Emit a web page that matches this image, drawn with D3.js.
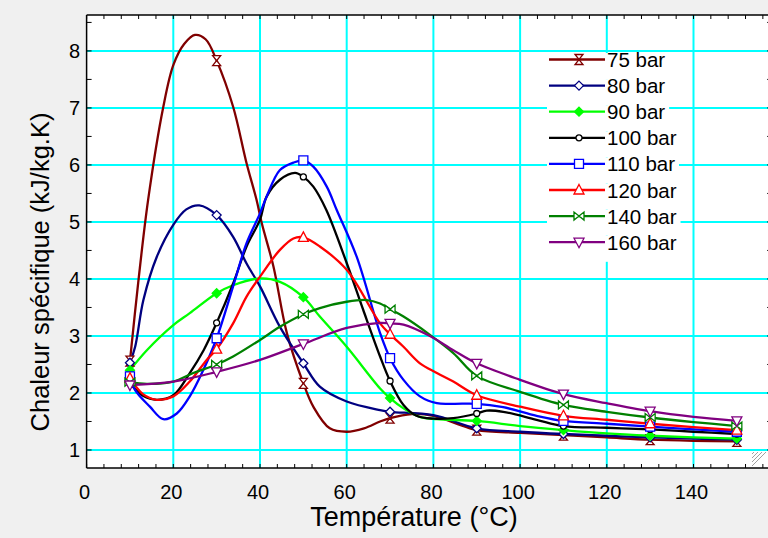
<!DOCTYPE html>
<html><head><meta charset="utf-8">
<script src="https://cdn.jsdelivr.net/npm/d3@7"></script>
<style>
html,body{margin:0;padding:0;background:#f0f0f0;}
svg{display:block;font-family:"Liberation Sans",Arial,sans-serif;}
</style></head>
<body><svg id="c" width="768" height="538"></svg>
<script>
// ---- data ----
const seriesNames = ["75 bar","80 bar","90 bar","100 bar","110 bar","120 bar","140 bar","160 bar"];
const markerTemps = [10,30,50,70,90,110,130,150];
const xTickLabels = [0,20,40,60,80,100,120,140];
const yTickLabels = [1,2,3,4,5,6,7,8];

const temps75 = [10,11.9,14.2,17.7,20,22.5,25,27.5,30,33.8,36.9,39.2,40.4,43.1,46.2,50,52.3,56.1,60,64,67.7,70,75,80,85,90,100,110,120,130,140,150];
const cp75    = [2.56,3.93,5.39,7.02,7.75,8.12,8.28,8.2,7.83,7.02,6.03,5.39,4.98,4.22,3.05,2.17,1.76,1.38,1.32,1.38,1.50,1.56,1.63,1.60,1.47,1.35,1.30,1.26,1.22,1.18,1.16,1.15];

const temps80 = [10,11.2,13.1,16.2,20,23,26,30,33.8,36.9,40,44.6,50,53.8,60,67.7,70,80,90,100,110,120,130,140,150];
const cp80    = [2.53,2.81,3.63,4.39,4.95,5.22,5.29,5.12,4.74,4.27,3.87,3.16,2.52,2.11,1.85,1.70,1.67,1.61,1.38,1.32,1.28,1.25,1.22,1.20,1.18];

const temps90 = [10,13.9,20,23.8,30,33.8,40,44.6,50,53.8,60,67.7,70,73.1,76.9,80.8,90,100,110,120,130,140,150];
const cp90    = [2.40,2.75,3.19,3.40,3.75,3.89,4.01,3.95,3.68,3.34,2.81,2.08,1.91,1.73,1.58,1.54,1.51,1.42,1.35,1.29,1.25,1.22,1.20];

const temps100 = [10,13,16.2,20,23.8,27,30,33.8,36.9,40,41.5,44.6,48.1,50,52.3,55.3,60,63.8,67.7,70,73.1,76.1,80,84.6,90,92.3,96.1,103.8,110,120,130,140,150];
const cp100    = [2.17,1.95,1.88,1.96,2.35,2.75,3.23,3.92,4.57,5.04,5.44,5.74,5.86,5.79,5.62,5.21,4.28,3.46,2.64,2.21,1.79,1.60,1.55,1.56,1.64,1.69,1.67,1.53,1.42,1.39,1.36,1.32,1.28];

const temps110 = [10,11.2,14.6,17.7,20.8,23.8,26.9,30,33.8,36.9,40,41.5,44.6,47.7,50,52.3,55.4,57.7,62.3,67.7,70,73.1,76.9,80.8,84.6,90,96.1,103.8,110,120,130,140,150];
const cp110    = [2.29,2.05,1.76,1.54,1.64,1.94,2.40,2.96,3.87,4.63,5.15,5.44,5.91,6.04,6.08,5.97,5.62,5.21,4.39,3.05,2.61,2.23,1.94,1.82,1.81,1.81,1.75,1.60,1.51,1.46,1.41,1.36,1.32];

const temps120 = [10,13,16.2,20,23.8,27.7,30,33.8,36.9,40,44.6,47.7,50,53.8,60,67.7,70,73.1,76.9,80.8,84.6,90,100,110,120,130,140,150];
const cp120    = [2.26,1.98,1.88,1.94,2.20,2.58,2.77,3.22,3.69,4.04,4.51,4.71,4.73,4.57,4.16,3.22,3.03,2.81,2.52,2.35,2.20,1.96,1.76,1.60,1.53,1.46,1.40,1.35];

const temps140 = [10,13.9,20,24.6,30,33.8,40,44.6,50,53.8,60,64.6,67.7,70,73.1,79.2,84.6,90,100,110,120,130,140,150];
const cp140    = [2.19,2.16,2.20,2.35,2.50,2.64,2.93,3.16,3.38,3.49,3.60,3.63,3.57,3.47,3.34,3.02,2.70,2.30,2.02,1.79,1.67,1.57,1.49,1.42];

const temps160 = [10,20,30,40,50,60,67.7,70,73.1,79.2,84.6,90,100,110,120,130,140,150];
const cp160    = [2.14,2.20,2.37,2.58,2.86,3.14,3.23,3.22,3.20,3.00,2.75,2.52,2.23,1.98,1.82,1.68,1.58,1.51];

const seriesTemps = [temps75,temps80,temps90,temps100,temps110,temps120,temps140,temps160];
const seriesValues = [cp75,cp80,cp90,cp100,cp110,cp120,cp140,cp160];

// ---- styles ----
const colors = ["#800000","#000080","#00ff00","#000000","#0000ff","#ff0000","#008000","#800080"];
const markerKinds = ["hourglass","diamond","diamondFilled","circle","square","triUp","bowtie","triDown"];

const svg = d3.select("#c");
const W = 768, H = 538;
const x = d3.scaleLinear().domain([0,160]).range([86.6,780.2]);
const y = d3.scaleLinear().domain([0.684,8.63]).range([468,15]);
const X0 = x(0), X1 = x(160), Y0 = y.range()[0], Y1 = y.range()[1];

svg.append("rect").attr("width",W).attr("height",H).attr("fill","#f0f0f0");
svg.append("rect").attr("x",X0).attr("y",Y1).attr("width",X1-X0).attr("height",Y0-Y1).attr("fill","#fff");

// grid
const gGrid = svg.append("g").attr("stroke","#00ffff").attr("stroke-width",2);
[20,40,60,80,100,120,140].forEach(t=>{
  gGrid.append("line").attr("x1",x(t)).attr("x2",x(t)).attr("y1",Y1).attr("y2",Y0);
});
yTickLabels.forEach(v=>{
  gGrid.append("line").attr("x1",X0).attr("x2",X1).attr("y1",y(v)).attr("y2",y(v));
});

// minor ticks
const gT = svg.append("g").attr("stroke","#000").attr("stroke-width",1);
d3.range(0,161,4).forEach(t=>{
  gT.append("line").attr("x1",x(t)).attr("x2",x(t)).attr("y1",Y0).attr("y2",Y0-4);
  gT.append("line").attr("x1",x(t)).attr("x2",x(t)).attr("y1",Y1).attr("y2",Y1+4);
});
d3.range(1,8.51,0.5).forEach(v=>{
  gT.append("line").attr("x1",X0).attr("x2",X0+5).attr("y1",y(v)).attr("y2",y(v));
  gT.append("line").attr("x1",X1).attr("x2",X1-13).attr("y1",y(v)).attr("y2",y(v));
});

// lines
const line = d3.line().x(d=>x(d[0])).y(d=>y(d[1])).curve(d3.curveCatmullRom.alpha(0.5));
const gL = svg.append("g");
seriesNames.forEach((n,i)=>{
  const pts = seriesTemps[i].map((t,j)=>[t,seriesValues[i][j]]);
  gL.append("path").attr("d",line(pts)).attr("fill","none")
    .attr("stroke",colors[i]).attr("stroke-width",2.3).attr("stroke-linejoin","round");
});

function markerPath(kind){
  switch(kind){
    case "hourglass": return "M-4,-5L4,-5L0,0ZM-4,5L4,5L0,0Z";
    case "diamond": case "diamondFilled": return "M0,-4.5L4.5,0L0,4.5L-4.5,0Z";
    case "circle": return "M3,0A3,3 0 1,1 -3,0A3,3 0 1,1 3,0Z";
    case "square": return "M-4.5,-4.5L4.5,-4.5L4.5,4.5L-4.5,4.5Z";
    case "triUp": return "M0,-5.5L5,4L-5,4Z";
    case "bowtie": return "M-5,-4L-5,4L0,0ZM5,-4L5,4L0,0Z";
    case "triDown": return "M0,5.5L5,-4L-5,-4Z";
  }
}
function drawMarker(g,kind,color,cx,cy){
  g.append("path").attr("d",markerPath(kind)).attr("transform",`translate(${cx},${cy})`)
    .attr("fill",kind==="diamondFilled"?color:"#fff").attr("stroke",color).attr("stroke-width",1.3);
}
const gM = svg.append("g");
seriesNames.forEach((n,i)=>{
  markerTemps.forEach(t=>{
    const j = seriesTemps[i].indexOf(t);
    if(j<0) return;
    drawMarker(gM,markerKinds[i],colors[i],x(t),y(seriesValues[i][j]));
  });
});

// frame
svg.append("line").attr("x1",X0).attr("x2",X0).attr("y1",Y1).attr("y2",Y0).attr("stroke","#000").attr("stroke-width",1.5);
svg.append("line").attr("x1",X0).attr("x2",X1).attr("y1",Y0).attr("y2",Y0).attr("stroke","#000").attr("stroke-width",1.5);
svg.append("line").attr("x1",X0).attr("x2",X1).attr("y1",Y1).attr("y2",Y1).attr("stroke","#000").attr("stroke-width",1.5);

// tick labels
const gLab = svg.append("g").attr("font-size",20).attr("fill","#000");
xTickLabels.forEach(t=>{
  gLab.append("text").attr("x",x(t)-2).attr("y",499).attr("text-anchor","middle").text(t);
});
yTickLabels.forEach(v=>{
  gLab.append("text").attr("x",80).attr("y",y(v)+7).attr("text-anchor","end").text(v);
});

// titles
svg.append("text").attr("x",414).attr("y",526).attr("text-anchor","middle").attr("font-size",27).text("Température (°C)");
svg.append("text").attr("transform","translate(49,272) rotate(-90)").attr("text-anchor","middle").attr("font-size",25.5).text("Chaleur spécifique (kJ/kg.K)");

// legend
const gLeg = svg.append("g");
const legY0 = 59.5, legStep = 26.1;
seriesNames.forEach((n,i)=>{
  const ly = legY0 + i*legStep;
  const txt = gLeg.append("text").attr("x",607).attr("y",ly+7.5).attr("font-size",20.5).text(n);
  const w = txt.node().getComputedTextLength();
  gLeg.insert("rect","text").attr("x",547).attr("y",ly-6.5).attr("width",607+w+4-547).attr("height",legStep).attr("fill","#fff");
  gLeg.append("line").attr("x1",549).attr("x2",605).attr("y1",ly).attr("y2",ly).attr("stroke",colors[i]).attr("stroke-width",2.3);
  drawMarker(gLeg,markerKinds[i],colors[i],579,ly);
});

// resize grip
const gGrip = svg.append("g").attr("stroke","#a0a0a0").attr("stroke-width",1);
[0,4,8,12].forEach(o=>{
  gGrip.append("line").attr("x1",766-o).attr("y1",452).attr("x2",752).attr("y2",466-o);
});
</script></body></html>
